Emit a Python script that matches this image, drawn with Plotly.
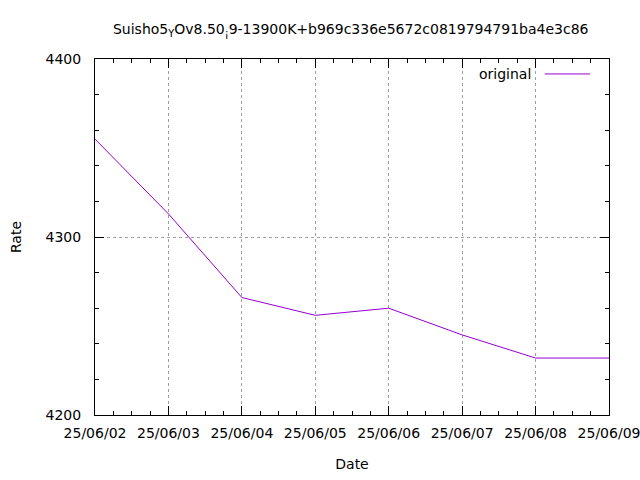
import plotly.graph_objects as go

dates = ["2025-06-02", "2025-06-03", "2025-06-04", "2025-06-05",
         "2025-06-06", "2025-06-07", "2025-06-08", "2025-06-09"]
rates = [4355, 4313, 4266, 4256, 4260, 4245, 4232, 4232]
series_name = "original"
title_text = "Suisho5<sub>Y</sub>Ov8.50<sub>¡</sub>9-13900K+b969c336e5672c0819794791ba4e3c86"

FONT = "DejaVu Sans, Liberation Sans, Arial, sans-serif"
FS = 14
color = "#9400D3"

fig = go.Figure()
fig.add_trace(go.Scatter(x=dates, y=rates, mode="lines", name=series_name,
                         line=dict(color=color, width=1), showlegend=False))

axis_common = dict(
    showline=True, linecolor="black", linewidth=1, mirror="allticks",
    ticks="inside", ticklen=9, tickcolor="black", tickwidth=1,
    showgrid=True, gridcolor="#a0a0a0", griddash="dot", gridwidth=1,
    zeroline=False, tickfont=dict(family=FONT, size=FS, color="black"),
    automargin=False, ticklabeloverflow="allow",
)

fig.update_xaxes(
    **axis_common, type="date", range=[dates[0], dates[-1]],
    dtick=86400000, tickformat="%y/%m/%d", tick0=dates[0], ticklabelstandoff=5,
    minor=dict(dtick=6 * 3600 * 1000, ticks="inside", ticklen=4, tickcolor="black", showgrid=False),
    title=dict(text="Date", font=dict(family=FONT, size=FS, color="black"), standoff=19),
)
fig.update_yaxes(
    **axis_common, range=[4200, 4400], dtick=100, ticklabelstandoff=10,
    minor=dict(dtick=20, ticks="inside", ticklen=4, tickcolor="black", showgrid=False),
    title=dict(text="Rate", font=dict(family=FONT, size=FS, color="black"), standoff=20),
)

fig.add_annotation(xref="paper", yref="paper", x=0.852, y=0.958, xanchor="right", yanchor="middle",
                   text=series_name, showarrow=False, font=dict(family=FONT, size=FS, color="black"))
fig.add_shape(type="line", xref="paper", yref="paper", x0=0.875, x1=0.963, y0=0.958, y1=0.958,
              line=dict(color=color, width=1))

fig.update_layout(
    width=640, height=480,
    margin=dict(l=95, r=31, t=59, b=65),
    paper_bgcolor="white", plot_bgcolor="white",
    title=dict(text=title_text, x=0.548, xanchor="center", xref="container",
               y=0.94, yanchor="middle", yref="container",
               font=dict(family=FONT, size=FS, color="black")),
    font=dict(family=FONT, size=FS, color="black"),
)

fig.write_html("out.html", config={"displayModeBar": False},
               post_script="document.body.style.margin='0';document.body.style.overflow='hidden';")
